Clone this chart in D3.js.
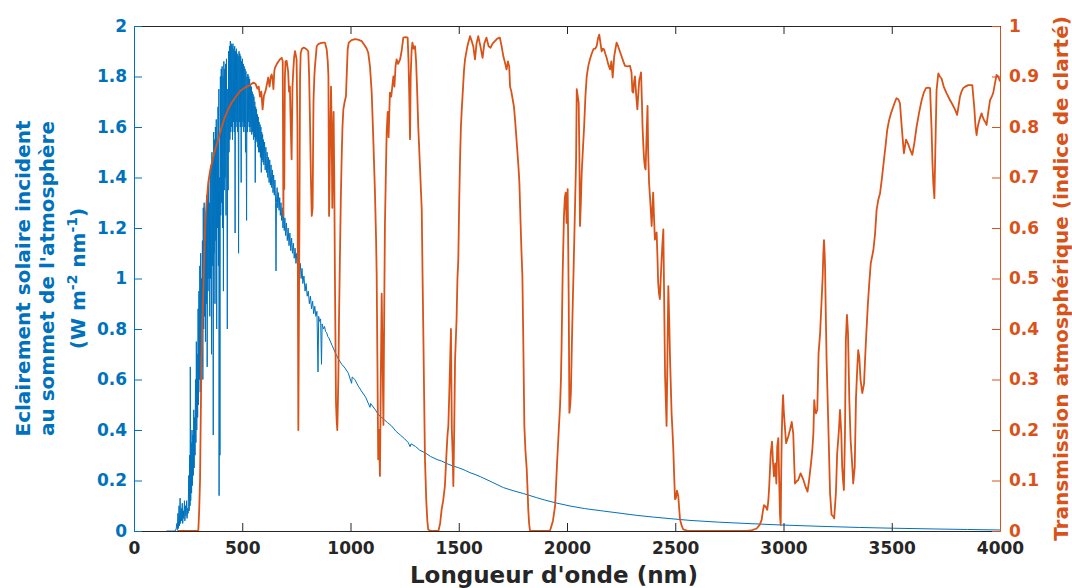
<!DOCTYPE html>
<html><head><meta charset="utf-8">
<script src="https://cdn.jsdelivr.net/npm/d3@7/dist/d3.min.js"></script>
<style>
body{margin:0;background:#fff}
svg{display:block}
text{font-family:"DejaVu Sans",sans-serif;font-weight:bold}
</style>
</head><body>
<svg id="c" width="1072" height="588"></svg>
<script>
// ---- data ----
const xTicks=[0,500,1000,1500,2000,2500,3000,3500,4000];
const leftTicks=[0,0.2,0.4,0.6,0.8,1,1.2,1.4,1.6,1.8,2];
const rightTicks=[0,0.1,0.2,0.3,0.4,0.5,0.6,0.7,0.8,0.9,1];

// solar irradiance at top of atmosphere [wavelength nm, W m-2 nm-1]
const solar=[[150,0],[190,0],[195,0.01],[198,0.03],[200,0.005],[203,0.07],[205,0.01],[208,0.1],[210,0.02],[213,0.13],[215,0.03],[218,0.09],[220,0.04],[223,0.11],[225,0.03],[228,0.08],[230,0.05],[233,0.12],[235,0.04],[238,0.1],[240,0.06],[243,0.12],[245,0.05],[248,0.09],[250,0.07],[253,0.22],[255,0.08],[257,0.3],[259,0.1],[260,0.65],[262,0.12],[264,0.35],[266,0.15],[268,0.4],[270,0.18],[272,0.38],[274,0.22],[276,0.48],[278,0.25],[280,0.45],[282,0.3],[284,0.6],[286,0.35],[288,0.75],[290,0.4],[292,0.7],[294,0.45],[296,0.88],[298,0.5],[300,0.95],[302,0.6],[304,1.05],[306,0.55],[308,1.1],[310,0.7],[312,1.0],[314,0.65],[316,1.15],[318,0.6],[320,1.28],[322,0.8],[324,1.3],[326,0.85],[328,1.22],[330,0.75],[332,1.26],[334,0.9],[336,1.33],[338,0.65],[340,1.35],[342,0.95],[344,1.37],[346,1.0],[348,1.3],[350,0.85],[352,1.42],[354,1.0],[356,1.45],[358,0.7],[360,1.5],[362,1.05],[364,1.48],[366,0.38],[368,1.58],[370,1.1],[372,1.55],[374,0.9],[376,1.6],[378,1.15],[380,1.63],[382,0.8],[384,1.55],[386,1.2],[388,1.68],[390,1.05],[392,1.75],[393,0.14],[395,1.4],[397,0.3],[399,1.8],[401,1.25],[403,1.83],[405,1.3],[407,1.84],[409,1.2],[411,1.8],[413,0.95],[415,1.86],[417,1.35],[419,1.83],[421,1.4],[423,1.85],[425,1.25],[427,1.87],[429,1.45],[431,0.8],[433,1.75],[435,1.35],[437,1.9],[439,1.5],[441,1.92],[443,1.55],[445,1.94],[447,1.58],[449,1.93],[451,1.6],[453,1.92],[455,1.55],[457,1.93],[459,1.62],[461,1.91],[463,1.58],[465,1.92],[467,1.18],[469,1.9],[471,1.6],[473,1.91],[475,1.62],[477,1.89],[479,1.58],[481,1.88],[483,1.1],[485,1.9],[487,1.62],[489,1.89],[491,1.6],[493,1.88],[495,1.38],[497,1.86],[499,1.6],[501,1.87],[503,1.62],[505,1.85],[507,1.58],[509,1.84],[511,1.6],[513,1.83],[515,1.5],[517,1.82],[519,1.4],[520,1.23],[522,1.8],[524,1.58],[526,1.81],[528,1.62],[530,1.8],[532,1.6],[534,1.79],[536,1.58],[538,1.77],[540,1.6],[542,1.76],[544,1.57],[546,1.74],[548,1.58],[550,1.73],[552,1.55],[554,1.72],[556,1.56],[558,1.7],[560,1.38],[562,1.68],[564,1.55],[566,1.67],[568,1.54],[570,1.65],[572,1.52],[574,1.64],[576,1.5],[578,1.62],[580,1.5],[582,1.61],[584,1.48],[586,1.6],[588,1.42],[590,1.58],[592,1.47],[594,1.57],[596,1.46],[598,1.55],[600,1.45],[603,1.54],[606,1.43],[609,1.52],[612,1.42],[615,1.5],[618,1.4],[621,1.48],[624,1.38],[627,1.47],[630,1.37],[633,1.45],[636,1.36],[639,1.43],[642,1.34],[645,1.41],[648,1.33],[651,1.39],[654,1.3],[656,1.03],[658,1.3],[661,1.36],[664,1.28],[667,1.34],[670,1.27],[673,1.32],[676,1.25],[679,1.3],[682,1.23],[685,1.28],[688,1.2],[691,1.26],[694,1.19],[697,1.24],[700,1.17],[704,1.22],[708,1.15],[712,1.2],[716,1.13],[720,1.18],[724,1.11],[728,1.16],[732,1.1],[736,1.14],[740,1.08],[744,1.12],[748,1.06],[752,1.1],[756,1.04],[760,1.08],[764,1.02],[768,1.06],[772,1.0],[776,1.04],[780,0.98],[785,1.01],[790,0.95],[795,0.98],[800,0.93],[805,0.95],[810,0.9],[815,0.93],[820,0.88],[825,0.91],[830,0.86],[835,0.89],[840,0.85],[845,0.87],[850,0.63],[853,0.85],[857,0.83],[862,0.84],[866,0.66],[869,0.82],[875,0.8],[880,0.81],[885,0.79],[890,0.785],[895,0.77],[900,0.765],[915,0.735],[930,0.705],[945,0.68],[960,0.66],[975,0.645],[990,0.625],[1005,0.585],[1008,0.61],[1020,0.6],[1036,0.574],[1050,0.555],[1070,0.53],[1090,0.49],[1093,0.505],[1113,0.482],[1130,0.46],[1150,0.445],[1170,0.43],[1190,0.416],[1210,0.395],[1230,0.38],[1250,0.365],[1267,0.35],[1275,0.334],[1280,0.345],[1300,0.335],[1320,0.32],[1344,0.31],[1370,0.295],[1400,0.283],[1421,0.277],[1450,0.265],[1475,0.257],[1498,0.251],[1530,0.24],[1552,0.231],[1575,0.224],[1600,0.215],[1650,0.195],[1706,0.172],[1750,0.16],[1800,0.148],[1860,0.132],[1900,0.122],[1950,0.111],[2014,0.099],[2080,0.089],[2168,0.079],[2250,0.07],[2322,0.062],[2400,0.055],[2476,0.049],[2568,0.042],[2700,0.035],[2850,0.029],[2984,0.024],[3150,0.019],[3350,0.014],[3507,0.011],[3700,0.008],[3850,0.006],[4000,0.004]];

// atmospheric transmission (clearness index) [wavelength nm, fraction]
const transmission=[[200,0],[297,0],[301,0.04],[305,0.1],[309,0.25],[312,0.34],[316,0.42],[320,0.47],[324,0.54],[328,0.6],[335,0.65],[343,0.69],[352,0.715],[366,0.74],[378,0.76],[390,0.776],[405,0.8],[420,0.82],[435,0.835],[451,0.848],[470,0.86],[490,0.871],[512,0.878],[536,0.883],[552,0.888],[562,0.885],[570,0.876],[576,0.88],[582,0.86],[588,0.87],[594,0.835],[600,0.862],[608,0.872],[614,0.885],[620,0.898],[626,0.88],[632,0.9],[636,0.904],[640,0.895],[644,0.875],[648,0.91],[651,0.917],[660,0.925],[668,0.93],[674,0.934],[682,0.937],[687,0.93],[690,0.624],[692,0.8],[694,0.677],[697,0.9],[700,0.93],[705,0.931],[712,0.91],[716,0.87],[720,0.88],[724,0.8],[728,0.736],[732,0.88],[736,0.914],[740,0.94],[744,0.95],[751,0.934],[755,0.8],[759,0.2],[762,0.45],[764,0.604],[767,0.9],[770,0.947],[776,0.955],[782,0.957],[790,0.956],[797,0.954],[805,0.95],[809,0.9],[813,0.81],[817,0.7],[821,0.624],[825,0.64],[829,0.85],[833,0.9],[836,0.921],[844,0.96],[851,0.964],[862,0.966],[874,0.967],[882,0.967],[890,0.954],[895,0.93],[898,0.9],[901,0.624],[905,0.75],[910,0.88],[913,0.8],[916,0.64],[919,0.75],[922,0.83],[925,0.7],[928,0.505],[933,0.254],[936,0.22],[939,0.2],[942,0.26],[944,0.307],[947,0.42],[951,0.538],[955,0.65],[959,0.736],[963,0.8],[967,0.835],[973,0.85],[979,0.861],[984,0.92],[987,0.954],[992,0.967],[1005,0.972],[1021,0.974],[1035,0.973],[1052,0.97],[1065,0.962],[1075,0.955],[1082,0.947],[1090,0.92],[1098,0.868],[1105,0.78],[1113,0.67],[1118,0.58],[1121,0.505],[1124,0.35],[1128,0.142],[1132,0.2],[1136,0.109],[1140,0.3],[1144,0.47],[1148,0.35],[1152,0.21],[1156,0.45],[1159,0.604],[1163,0.7],[1167,0.789],[1172,0.83],[1176,0.78],[1182,0.868],[1188,0.86],[1193,0.88],[1198,0.9],[1203,0.88],[1208,0.92],[1213,0.934],[1220,0.925],[1229,0.934],[1236,0.95],[1244,0.977],[1255,0.978],[1264,0.977],[1268,0.93],[1272,0.85],[1275,0.776],[1278,0.9],[1282,0.95],[1286,0.967],[1292,0.955],[1298,0.96],[1303,0.93],[1308,0.87],[1313,0.8],[1320,0.73],[1329,0.637],[1333,0.5],[1336,0.406],[1340,0.27],[1344,0.142],[1350,0.06],[1355,0.02],[1359,0.003],[1370,0],[1406,0],[1414,0.015],[1421,0.043],[1428,0.06],[1436,0.089],[1443,0.15],[1448,0.19],[1452,0.208],[1458,0.3],[1464,0.4],[1468,0.2],[1472,0.15],[1475,0.089],[1479,0.2],[1483,0.34],[1490,0.42],[1494,0.5],[1498,0.538],[1502,0.65],[1506,0.736],[1510,0.8],[1514,0.835],[1520,0.88],[1524,0.91],[1529,0.934],[1540,0.96],[1552,0.98],[1560,0.97],[1567,0.96],[1575,0.934],[1582,0.965],[1590,0.98],[1600,0.96],[1610,0.937],[1618,0.965],[1628,0.977],[1638,0.96],[1647,0.957],[1656,0.965],[1667,0.97],[1678,0.975],[1690,0.977],[1698,0.96],[1706,0.94],[1712,0.93],[1721,0.914],[1727,0.93],[1733,0.92],[1737,0.88],[1743,0.87],[1749,0.855],[1755,0.84],[1760,0.815],[1766,0.78],[1771,0.75],[1776,0.72],[1780,0.69],[1786,0.604],[1790,0.55],[1794,0.505],[1798,0.38],[1803,0.208],[1808,0.16],[1814,0.122],[1818,0.08],[1821,0.043],[1825,0.015],[1829,0],[1921,0],[1935,0.02],[1945,0.05],[1955,0.142],[1962,0.2],[1968,0.248],[1972,0.3],[1975,0.366],[1980,0.51],[1986,0.624],[1990,0.66],[1994,0.67],[1998,0.61],[2003,0.677],[2006,0.55],[2008,0.452],[2011,0.234],[2015,0.25],[2018,0.274],[2022,0.36],[2026,0.439],[2030,0.51],[2034,0.584],[2038,0.66],[2042,0.736],[2045,0.875],[2050,0.86],[2054,0.848],[2057,0.75],[2060,0.604],[2064,0.65],[2068,0.71],[2074,0.76],[2079,0.8],[2085,0.86],[2091,0.9],[2098,0.92],[2106,0.934],[2114,0.945],[2122,0.954],[2130,0.955],[2137,0.96],[2143,0.975],[2149,0.983],[2155,0.965],[2160,0.95],[2166,0.955],[2171,0.954],[2177,0.945],[2183,0.937],[2190,0.925],[2199,0.914],[2205,0.93],[2211,0.898],[2218,0.94],[2224,0.955],[2229,0.967],[2236,0.96],[2244,0.95],[2252,0.94],[2260,0.93],[2268,0.921],[2280,0.92],[2291,0.921],[2298,0.908],[2302,0.87],[2306,0.868],[2310,0.89],[2314,0.9],[2320,0.86],[2325,0.835],[2330,0.87],[2334,0.894],[2338,0.9],[2342,0.908],[2346,0.85],[2349,0.8],[2353,0.76],[2356,0.736],[2360,0.72],[2363,0.716],[2366,0.76],[2368,0.789],[2372,0.842],[2375,0.75],[2379,0.69],[2385,0.65],[2391,0.604],[2395,0.64],[2398,0.67],[2402,0.62],[2406,0.577],[2410,0.585],[2414,0.591],[2418,0.54],[2421,0.492],[2425,0.47],[2429,0.459],[2433,0.5],[2437,0.538],[2441,0.57],[2445,0.597],[2449,0.45],[2453,0.307],[2457,0.25],[2460,0.208],[2464,0.35],[2468,0.485],[2472,0.42],[2476,0.34],[2480,0.28],[2483,0.234],[2487,0.2],[2491,0.162],[2495,0.11],[2499,0.063],[2503,0.065],[2508,0.08],[2514,0.069],[2518,0.045],[2522,0.023],[2530,0.01],[2537,0.003],[2560,0],[2830,0],[2850,0.001],[2876,0.005],[2890,0.012],[2899,0.022],[2905,0.04],[2910,0.051],[2918,0.048],[2925,0.042],[2930,0.06],[2934,0.088],[2941,0.154],[2947,0.177],[2951,0.14],[2956,0.108],[2962,0.134],[2967,0.094],[2971,0.167],[2976,0.184],[2981,0.081],[2984,0.03],[2987,0.012],[2989,0.1],[2992,0.193],[2995,0.24],[2998,0.269],[3001,0.24],[3004,0.22],[3012,0.174],[3022,0.187],[3030,0.2],[3038,0.216],[3045,0.193],[3049,0.14],[3053,0.094],[3060,0.098],[3068,0.101],[3079,0.114],[3085,0.108],[3092,0.101],[3100,0.09],[3111,0.078],[3118,0.1],[3127,0.134],[3133,0.16],[3138,0.193],[3142,0.259],[3146,0.24],[3150,0.233],[3156,0.24],[3162,0.352],[3169,0.391],[3176,0.457],[3181,0.504],[3184,0.55],[3187,0.576],[3190,0.55],[3192,0.523],[3195,0.438],[3199,0.339],[3204,0.259],[3210,0.16],[3215,0.075],[3222,0.032],[3228,0.03],[3234,0.025],[3242,0.075],[3248,0.154],[3256,0.2],[3261,0.24],[3267,0.193],[3271,0.127],[3275,0.1],[3279,0.081],[3284,0.193],[3288,0.378],[3293,0.428],[3298,0.391],[3304,0.259],[3310,0.18],[3318,0.127],[3322,0.094],[3329,0.127],[3335,0.266],[3341,0.325],[3345,0.358],[3350,0.345],[3356,0.299],[3364,0.273],[3372,0.292],[3376,0.332],[3381,0.378],[3389,0.444],[3396,0.49],[3403,0.53],[3415,0.556],[3423,0.589],[3430,0.636],[3438,0.656],[3446,0.669],[3455,0.7],[3464,0.735],[3472,0.765],[3479,0.794],[3488,0.814],[3497,0.828],[3507,0.84],[3515,0.85],[3522,0.857],[3530,0.855],[3538,0.847],[3546,0.801],[3556,0.748],[3566,0.775],[3576,0.766],[3585,0.755],[3595,0.745],[3605,0.77],[3615,0.801],[3627,0.83],[3638,0.853],[3648,0.868],[3658,0.877],[3668,0.878],[3677,0.877],[3684,0.794],[3688,0.73],[3692,0.688],[3697,0.659],[3701,0.748],[3707,0.873],[3715,0.906],[3722,0.9],[3730,0.896],[3740,0.88],[3753,0.867],[3767,0.855],[3781,0.844],[3792,0.835],[3802,0.824],[3808,0.84],[3815,0.86],[3822,0.87],[3830,0.877],[3840,0.88],[3853,0.883],[3872,0.883],[3881,0.84],[3887,0.8],[3892,0.784],[3897,0.8],[3903,0.811],[3909,0.82],[3915,0.827],[3920,0.82],[3926,0.814],[3932,0.81],[3938,0.804],[3946,0.83],[3954,0.853],[3962,0.86],[3969,0.868],[3976,0.885],[3984,0.903],[3992,0.9],[4000,0.89]];

const xLabel="Longueur d'onde (nm)";
const leftLabelLines=["Eclairement solaire incident","au sommet de l'atmosphère"];
const rightLabel="Transmission atmosphérique (indice de clarté)";

// ---- layout ----
const L=134,R=1000,T=26,B=531;
const blue="#0072BD", orange="#D95319", dark="#262626";
const svg=d3.select("#c");

const x=d3.scaleLinear().domain([0,4000]).range([L,R]);
const yL=d3.scaleLinear().domain([0,2]).range([B,T]);
const yR=d3.scaleLinear().domain([0,1]).range([B,T]);

svg.append("defs").append("clipPath").attr("id","clip")
  .append("rect").attr("x",L).attr("y",T).attr("width",R-L).attr("height",B-T);

const fmt=d=>String(+d.toFixed(1));

// lines
svg.append("path").datum(solar)
  .attr("clip-path","url(#clip)")
  .attr("fill","none").attr("stroke",blue).attr("stroke-width",1)
  .attr("stroke-linejoin","round")
  .attr("d",d3.line().x(d=>x(d[0])).y(d=>yL(d[1])));

svg.append("path").datum(transmission)
  .attr("clip-path","url(#clip)")
  .attr("fill","none").attr("stroke",orange).attr("stroke-width",1.8)
  .attr("stroke-linejoin","round")
  .attr("d",d3.line().x(d=>x(d[0])).y(d=>yR(d[1])));

// axes
function style(g,color,fs){
  g.selectAll(".domain").attr("stroke",color).attr("stroke-width",1);
  g.selectAll(".tick line").attr("stroke",color).attr("stroke-width",1);
  g.selectAll(".tick text").attr("fill",color).style("font-size",fs+"px").style("font-weight","bold").style("font-family","DejaVu Sans");
}
const gx=svg.append("g").attr("transform",`translate(0,${B})`)
  .call(d3.axisBottom(x).tickValues(xTicks).tickFormat(d3.format("d")).tickSize(-8).tickSizeOuter(0).tickPadding(11));
style(gx,dark,17);
const gt=svg.append("g").attr("transform",`translate(0,${T})`)
  .call(d3.axisTop(x).tickValues(xTicks).tickFormat("").tickSize(-8).tickSizeOuter(0));
style(gt,dark,17);
const gl=svg.append("g").attr("transform",`translate(${L},0)`)
  .call(d3.axisLeft(yL).tickValues(leftTicks).tickFormat(fmt).tickSize(-8).tickSizeOuter(0).tickPadding(7));
style(gl,blue,17);
const gr=svg.append("g").attr("transform",`translate(${R},0)`)
  .call(d3.axisRight(yR).tickValues(rightTicks).tickFormat(fmt).tickSize(-8).tickSizeOuter(0).tickPadding(9));
style(gr,orange,17);

// axis labels
svg.append("text").attr("x",554).attr("y",583).attr("text-anchor","middle")
  .attr("fill",dark).style("font-size","23px").text(xLabel);

const cy=(T+B)/2;
const ll=svg.append("g").attr("fill",blue).style("font-size","20px");
ll.append("text").attr("transform",`translate(30,${cy}) rotate(-90)`).attr("text-anchor","middle").text(leftLabelLines[0]);
ll.append("text").attr("transform",`translate(54,${cy}) rotate(-90)`).attr("text-anchor","middle").text(leftLabelLines[1]);
const l3=ll.append("text").attr("transform",`translate(85,${cy}) rotate(-90)`).attr("text-anchor","middle");
l3.append("tspan").text("(W m");
l3.append("tspan").attr("dy",-8).style("font-size","14px").text("-2");
l3.append("tspan").attr("dy",8).text(" nm");
l3.append("tspan").attr("dy",-8).style("font-size","14px").text("-1");
l3.append("tspan").attr("dy",8).text(")");

svg.append("text").attr("transform",`translate(1068,${cy}) rotate(-90)`).attr("text-anchor","middle")
  .attr("fill",orange).style("font-size","20px").text(rightLabel);
</script>
</body></html>
